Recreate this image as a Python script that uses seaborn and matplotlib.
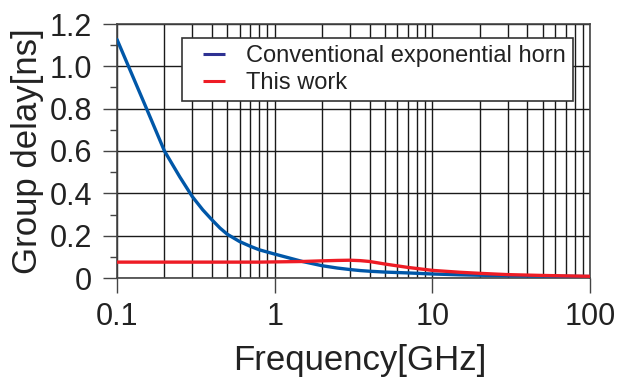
import matplotlib
matplotlib.use("Agg")
import matplotlib.pyplot as plt
import matplotlib.ticker as mticker
from matplotlib.lines import Line2D
import numpy as np
import pandas as pd
import seaborn as sns

freq = [0.1, 0.15, 0.2, 0.25, 0.3, 0.35, 0.4, 0.45, 0.5, 0.6, 0.7, 0.8, 1.0,
        1.5, 2.0, 2.5, 3.0, 3.5, 4.0, 5.0, 7.0, 10.0, 15.0, 20.0, 30.0, 50.0,
        70.0, 100.0]
conventional = [1.127, 0.82, 0.60, 0.478, 0.385, 0.322, 0.275, 0.236, 0.207,
                0.172, 0.150, 0.133, 0.113, 0.078, 0.058, 0.047, 0.040, 0.035,
                0.032, 0.028, 0.024, 0.019, 0.015, 0.013, 0.011, 0.009, 0.008,
                0.007]
this_work = [0.075, 0.075, 0.075, 0.075, 0.075, 0.075, 0.075, 0.075, 0.075,
             0.075, 0.075, 0.075, 0.076, 0.078, 0.081, 0.083, 0.084, 0.082,
             0.078, 0.066, 0.050, 0.036, 0.027, 0.022, 0.016, 0.012, 0.010,
             0.008]
series_names = ["Conventional exponential horn", "This work"]
x_ticks = [0.1, 1, 10, 100]
x_tick_labels = ["0.1", "1", "10", "100"]
y_ticks = [0, 0.2, 0.4, 0.6, 0.8, 1.0, 1.2]
y_tick_labels = ["0", "0.2", "0.4", "0.6", "0.8", "1.0", "1.2"]

df = pd.DataFrame({
    "freq": freq * 2,
    "delay": conventional + this_work,
    "series": [series_names[0]] * len(freq) + [series_names[1]] * len(freq),
})

sns.set_style("white")
plt.rcParams["font.family"] = ["Liberation Sans", "DejaVu Sans"]

fig = plt.figure(figsize=(6.36, 3.78), dpi=100)
ax = fig.add_axes([117 / 636, 1 - 278 / 378, 473 / 636, 254 / 378])

line_colors = {series_names[0]: "#0057a8", series_names[1]: "#ee1c25"}
sns.lineplot(data=df, x="freq", y="delay", hue="series", palette=line_colors,
             ax=ax, linewidth=2.4, legend=False, zorder=3)

ax.set_xscale("log")
ax.set_xlim(0.1, 100)
ax.set_ylim(0, 1.2)

ax.xaxis.set_major_locator(mticker.FixedLocator(x_ticks))
ax.xaxis.set_major_formatter(mticker.FixedFormatter(x_tick_labels))
ax.xaxis.set_minor_locator(mticker.LogLocator(base=10, subs=np.arange(2, 10)))
ax.xaxis.set_minor_formatter(mticker.NullFormatter())
ax.yaxis.set_major_locator(mticker.FixedLocator(y_ticks))
ax.yaxis.set_major_formatter(mticker.FixedFormatter(y_tick_labels))
ax.yaxis.set_minor_locator(mticker.MultipleLocator(0.1))

grid_color = "#1a1a1a"
ax.grid(which="major", axis="both", color=grid_color, linewidth=1.0, zorder=1)
ax.grid(which="minor", axis="x", color=grid_color, linewidth=1.0, zorder=1)
ax.set_axisbelow(True)

for s in ax.spines.values():
    s.set_color("#444444")
    s.set_linewidth(1.2)

ax.tick_params(axis="y", which="major", direction="out", length=10, width=1.0,
               color="#444444", labelsize=22, labelcolor="#222222", pad=8,
               left=True)
ax.tick_params(axis="y", which="minor", direction="out", length=5, width=1.0,
               color="#444444", left=True)
ax.tick_params(axis="x", which="major", direction="out", length=11, width=1.0,
               color="#444444", labelsize=22, labelcolor="#222222", pad=6,
               bottom=True)
ax.tick_params(axis="x", which="minor", length=0)

ax.set_xlabel("Frequency[GHz]", fontsize=25, color="#222222")
ax.set_ylabel("Group delay[ns]", fontsize=25, color="#222222", labelpad=4)
ax.xaxis.set_label_coords(0.514, -0.26)

handles = [Line2D([0], [0], linestyle="none", marker="_", markersize=16.5,
                  markeredgewidth=2.2, color="#2e3192"),
           Line2D([0], [0], linestyle="none", marker="_", markersize=16.5,
                  markeredgewidth=2.2, color="#ee1c25")]
leg = ax.legend(handles, series_names, loc="upper right",
                bbox_to_anchor=(0.964, 0.945), borderaxespad=0,
                fontsize=17, frameon=True, fancybox=False, framealpha=1,
                edgecolor="#333333", handlelength=2.1, handletextpad=0.3,
                borderpad=0.3, labelspacing=0.2)
leg.get_frame().set_linewidth(1.2)
leg.set_zorder(5)
for t in leg.get_texts():
    t.set_color("#222222")

fig.savefig("out.png", dpi=100, facecolor="white")
